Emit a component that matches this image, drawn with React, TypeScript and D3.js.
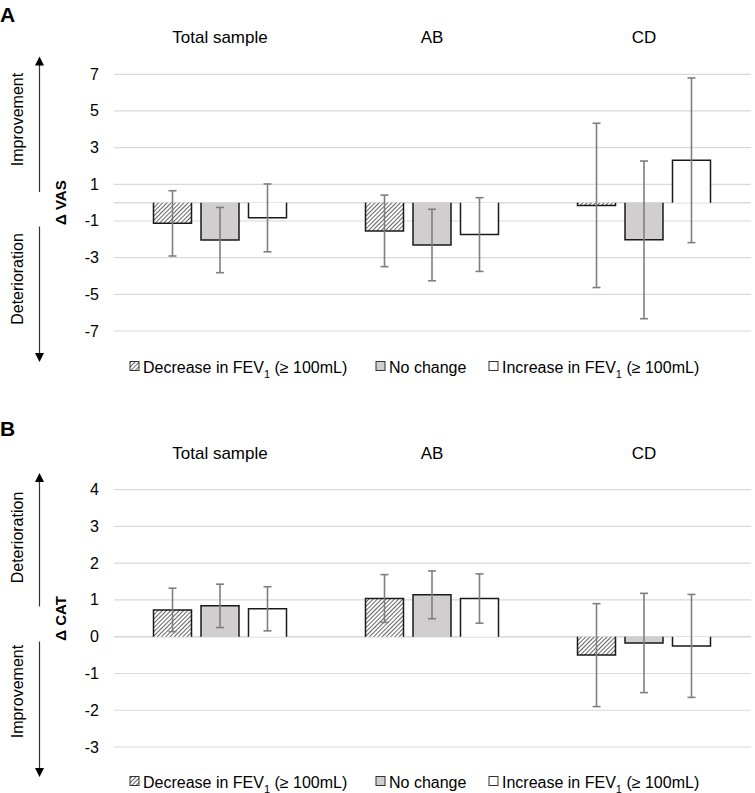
import React from "react";
import * as d3 from "d3";

const categories = ["Total sample", "AB", "CD"];
const seriesKeys = ["decrease", "noChange", "increase"];

// Panel A: change in VAS
const vasDecrease = [-1.13, -1.54, -0.15];
const vasNoChange = [-2.04, -2.31, -2.03];
const vasIncrease = [-0.83, -1.74, 2.31];
const vasDecreaseErr = [1.78, 1.95, 4.48];
const vasNoChangeErr = [1.78, 1.95, 4.3];
const vasIncreaseErr = [1.85, 2.01, 4.49];
const vasTicks = [7, 5, 3, 1, -1, -3, -5, -7];

// Panel B: change in CAT
const catDecrease = [0.73, 1.04, -0.5];
const catNoChange = [0.84, 1.14, -0.17];
const catIncrease = [0.76, 1.04, -0.25];
const catDecreaseErr = [0.59, 0.65, 1.4];
const catNoChangeErr = [0.59, 0.65, 1.35];
const catIncreaseErr = [0.6, 0.67, 1.4];
const catTicks = [4, 3, 2, 1, 0, -1, -2, -3];

const FONT = "'Liberation Sans', Arial, sans-serif";
const fills: Record<string, string> = {
  decrease: "url(#hatch)",
  noChange: "#d0cece",
  increase: "#ffffff",
};

type PanelProps = {
  letter: string;
  letterY: number;
  titleY: number;
  yDomain: [number, number];
  yRange: [number, number];
  ticks: number[];
  means: number[][];
  errs: number[][];
  axisLabel: string;
  upText: string;
  downText: string;
  upCenter: number;
  downCenter: number;
  arrowTop: number;
  arrowBreakTop: number;
  arrowBreakBottom: number;
  arrowBottom: number;
  legendY: number;
};

function Legend({ y }: { y: number }) {
  const items = [
    { key: "decrease", bx: 130, tx: 143, label: "Decrease in FEV", sub: true },
    { key: "noChange", bx: 376, tx: 389, label: "No change", sub: false },
    { key: "increase", bx: 489, tx: 502, label: "Increase in FEV", sub: true },
  ];
  return (
    <g>
      {items.map((it) => (
        <g key={it.key}>
          <rect x={it.bx} y={y - 5} width={9} height={9} fill={fills[it.key]} stroke="#333" strokeWidth={1} />
          <text x={it.tx} y={y + 6} fontSize={16} fontFamily={FONT} fill="#000">
            {it.label}
            {it.sub && (
              <>
                <tspan fontSize={11} dy={5}>1</tspan>
                <tspan dy={-5}> (≥ 100mL)</tspan>
              </>
            )}
          </text>
        </g>
      ))}
    </g>
  );
}

function Panel(p: PanelProps) {
  const x0 = d3.scaleBand<string>().domain(categories).range([114, 750]).paddingInner(0);
  const x1 = d3
    .scaleBand<string>()
    .domain(seriesKeys)
    .range([39.5, x0.bandwidth() - 39.5])
    .paddingInner(0.2);
  const y = d3.scaleLinear().domain(p.yDomain).range(p.yRange);
  const axX = 39.5;
  return (
    <g>
      <text x={0} y={p.letterY} fontSize={21} fontWeight="bold" fontFamily={FONT}>
        {p.letter}
      </text>
      {categories.map((c) => (
        <text
          key={c}
          x={(x0(c) as number) + x0.bandwidth() / 2}
          y={p.titleY}
          textAnchor="middle"
          fontSize={17}
          fontFamily={FONT}
        >
          {c}
        </text>
      ))}
      {p.ticks.map((t) => (
        <g key={t}>
          <line x1={114} x2={751} y1={y(t)} y2={y(t)} stroke="#d9d9d9" strokeWidth={1.2} />
          <text x={99} y={y(t) + 5.5} textAnchor="end" fontSize={16} fontFamily={FONT}>
            {t}
          </text>
        </g>
      ))}
      <line x1={114} x2={751} y1={y(0)} y2={y(0)} stroke="#d9d9d9" strokeWidth={1.5} />
      {categories.map((c, ci) =>
        seriesKeys.map((s, si) => {
          const v = p.means[si][ci];
          const e = p.errs[si][ci];
          const bx = (x0(c) as number) + (x1(s) as number);
          const bw = x1.bandwidth();
          const cx = bx + bw / 2;
          const top = Math.min(y(v), y(0));
          const h = Math.abs(y(v) - y(0));
          return (
            <g key={c + s}>
              <rect x={bx} y={top} width={bw} height={h} fill={fills[s]} stroke="none" />
              <path
                d={`M${bx},${y(0)}V${y(v)}H${bx + bw}V${y(0)}`}
                fill="none"
                stroke="#1a1a1a"
                strokeWidth={1.5}
              />
              <g stroke="#7f7f7f" strokeWidth={1.6}>
                <line x1={cx} x2={cx} y1={y(v + e)} y2={y(v - e)} />
                <line x1={cx - 4} x2={cx + 4} y1={y(v + e)} y2={y(v + e)} />
                <line x1={cx - 4} x2={cx + 4} y1={y(v - e)} y2={y(v - e)} />
              </g>
            </g>
          );
        })
      )}
      {/* side arrows */}
      <line x1={axX} x2={axX} y1={p.arrowTop + 8} y2={p.arrowBreakTop} stroke="#333" strokeWidth={1.2} />
      <line x1={axX} x2={axX} y1={p.arrowBreakBottom} y2={p.arrowBottom - 8} stroke="#333" strokeWidth={1.2} />
      <path d={`M${axX},${p.arrowTop}L${axX - 4.5},${p.arrowTop + 9}L${axX + 4.5},${p.arrowTop + 9}Z`} fill="#000" />
      <path d={`M${axX},${p.arrowBottom}L${axX - 4.5},${p.arrowBottom - 9}L${axX + 4.5},${p.arrowBottom - 9}Z`} fill="#000" />
      <text
        transform={`translate(22.5,${p.upCenter}) rotate(-90)`}
        textAnchor="middle"
        fontSize={16}
        fontFamily={FONT}
      >
        {p.upText}
      </text>
      <text
        transform={`translate(22.5,${p.downCenter}) rotate(-90)`}
        textAnchor="middle"
        fontSize={16}
        fontFamily={FONT}
      >
        {p.downText}
      </text>
      <text
        transform={`translate(65.5,${(p.yRange[0] + p.yRange[1]) / 2}) rotate(-90)`}
        textAnchor="middle"
        fontSize={15}
        fontWeight="bold"
        fontFamily={FONT}
      >
        {p.axisLabel}
      </text>
      <Legend y={p.legendY} />
    </g>
  );
}

export default function App() {
  return (
    <svg
      width={755}
      height={793}
      style={{ position: "absolute", left: 0, top: 0, background: "#fff" }}
    >
      <defs>
        <pattern
          id="hatch"
          patternUnits="userSpaceOnUse"
          width={3}
          height={3}
          patternTransform="rotate(45)"
        >
          <rect width={3} height={3} fill="#fff" />
          <line x1={0} y1={0} x2={0} y2={3} stroke="#111" strokeWidth={1.3} />
        </pattern>
      </defs>
      <rect width={755} height={793} fill="#fff" />
      <Panel
        letter="A"
        letterY={22}
        titleY={43}
        yDomain={[-7, 7]}
        yRange={[331, 74.3]}
        ticks={vasTicks}
        means={[vasDecrease, vasNoChange, vasIncrease]}
        errs={[vasDecreaseErr, vasNoChangeErr, vasIncreaseErr]}
        axisLabel="Δ VAS"
        upText="Improvement"
        downText="Deterioration"
        upCenter={119.5}
        downCenter={279}
        arrowTop={56.5}
        arrowBreakTop={192}
        arrowBreakBottom={226.5}
        arrowBottom={362}
        legendY={366.5}
      />
      <Panel
        letter="B"
        letterY={436}
        titleY={459}
        yDomain={[-3, 4]}
        yRange={[747, 489.7]}
        ticks={catTicks}
        means={[catDecrease, catNoChange, catIncrease]}
        errs={[catDecreaseErr, catNoChangeErr, catIncreaseErr]}
        axisLabel="Δ CAT"
        upText="Deterioration"
        downText="Improvement"
        upCenter={537.5}
        downCenter={691.5}
        arrowTop={473}
        arrowBreakTop={606.5}
        arrowBreakBottom={641.5}
        arrowBottom={777}
        legendY={781.5}
      />
    </svg>
  );
}
